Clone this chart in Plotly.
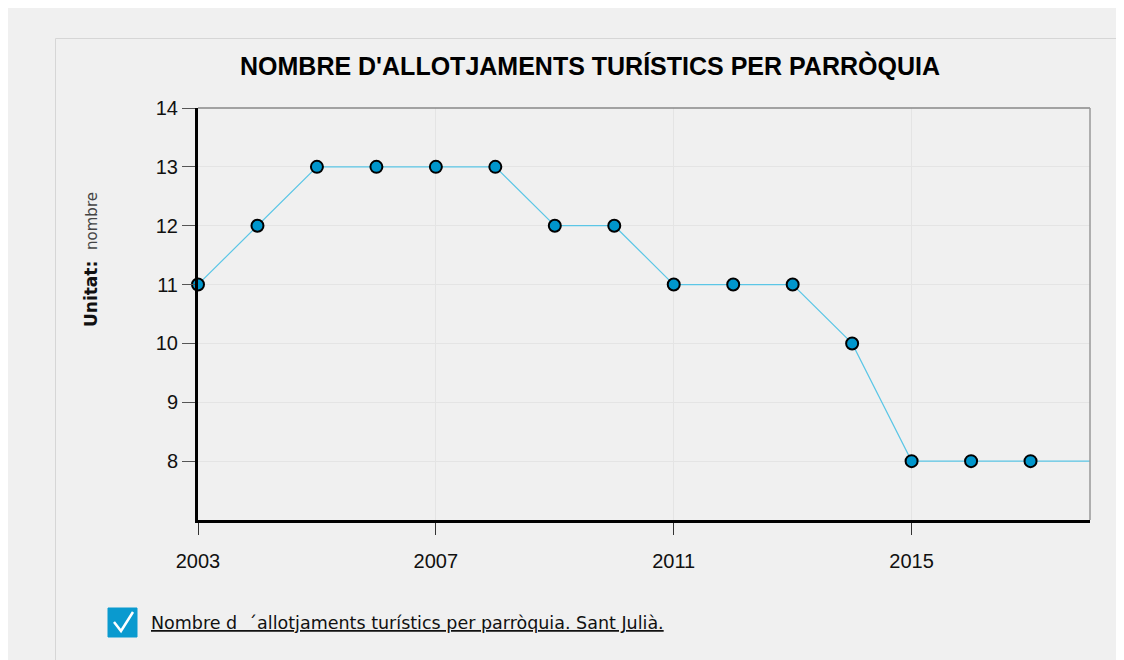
import plotly.graph_objects as go

years = list(range(2003, 2019))
values = [11, 12, 13, 13, 13, 13, 12, 12, 11, 11, 11, 10, 8, 8, 8, 8]
# last point (2018) only carries the line to the edge, no marker
marker_sizes = [12] * 15 + [0]

x_ticks = [2003, 2007, 2011, 2015]
y_ticks = [8, 9, 10, 11, 12, 13, 14]

title_text = "NOMBRE D'ALLOTJAMENTS TURÍSTICS PER PARRÒQUIA"
legend_text = "Nombre d  ´allotjaments turístics per parròquia. Sant Julià."

# the page adds an 8px body margin, so figure pixels = screen pixels - 8
W, H = 1124, 660
L, R, T, B = 190, 1082, 100, 512


def px(x):
    return (x - L) / (R - L)


def py(y):
    return (B - y) / (B - T)


fig = go.Figure()
fig.add_trace(go.Scatter(
    x=years, y=values, mode="lines+markers",
    line=dict(color="#5bc6e6", width=1.2),
    marker=dict(size=marker_sizes, color="#0096cc", opacity=1,
                line=dict(color="#000000", width=2)),
    showlegend=False, cliponaxis=False,
))

shapes = [
    # inner panel border
    dict(type="rect", xref="paper", yref="paper", x0=px(47.5), x1=px(1115.5), y0=py(30.5), y1=py(700),
         line=dict(color="#d6d6d6", width=1), layer="below"),
    # checkbox
    dict(type="rect", xref="paper", yref="paper", x0=px(100), x1=px(129), y0=py(600), y1=py(629),
         fillcolor="#0a9acf", line=dict(color="#0a9acf", width=1)),
    dict(type="path", xref="paper", yref="paper",
         path=f"M {px(106)},{py(614)} L {px(113)},{py(623)} L {px(125)},{py(604)}",
         line=dict(color="white", width=2.5)),
    # thin gray top and right frame
    dict(type="line", xref="paper", yref="paper", x0=0, x1=1, y0=1, y1=1,
         line=dict(color="#888888", width=1.5)),
    dict(type="line", xref="paper", yref="paper", x0=1, x1=1, y0=0, y1=1,
         line=dict(color="#999999", width=1.5)),
]

fig.update_layout(
    width=W, height=H,
    margin=dict(l=L, r=W - R, t=T, b=H - B),
    paper_bgcolor="#f0f0f0", plot_bgcolor="#f0f0f0",
    font=dict(family="Liberation Sans", color="#111111", size=19),
    title=dict(text=f"<b>{title_text}</b>", xref="paper", x=px(582), xanchor="center",
               y=1 - 58 / H, yanchor="middle",
               font=dict(size=25, family="Liberation Sans", color="#000000")),
    shapes=shapes,
    annotations=[
        dict(xref="paper", yref="paper", x=px(141), y=py(615), xanchor="left", yanchor="middle",
             text=f"<u>{legend_text}</u>", showarrow=False,
             font=dict(size=17.5, family="DejaVu Sans", color="#111111")),
        dict(xref="paper", yref="paper", x=px(83), y=py(252), xanchor="center", yanchor="middle",
             text="<b>Unitat:</b>  <span style='font-size:15px;color:#444'>nombre</span>", showarrow=False,
             textangle=-90, font=dict(size=17, family="DejaVu Sans", color="#111111")),
    ],
)

fig.update_xaxes(
    range=[2003, 2018], tickvals=x_ticks, ticktext=[str(t) for t in x_ticks],
    showline=True, linecolor="#000000", linewidth=3, mirror=False,
    ticks="outside", ticklen=12, tickcolor="#333333", tickwidth=1,
    ticklabelstandoff=9,
    showgrid=True, gridcolor="#e4e4e4", gridwidth=1, zeroline=False,
    tickfont=dict(size=20),
)
fig.update_yaxes(
    range=[7, 14], tickvals=y_ticks,
    showline=True, linecolor="#000000", linewidth=3, mirror=False,
    ticks="outside", ticklen=13, tickcolor="#555555", tickwidth=1,
    showgrid=True, gridcolor="#e4e4e4", gridwidth=1, zeroline=False,
    tickfont=dict(size=20),
)

fig.write_html("out.html")
